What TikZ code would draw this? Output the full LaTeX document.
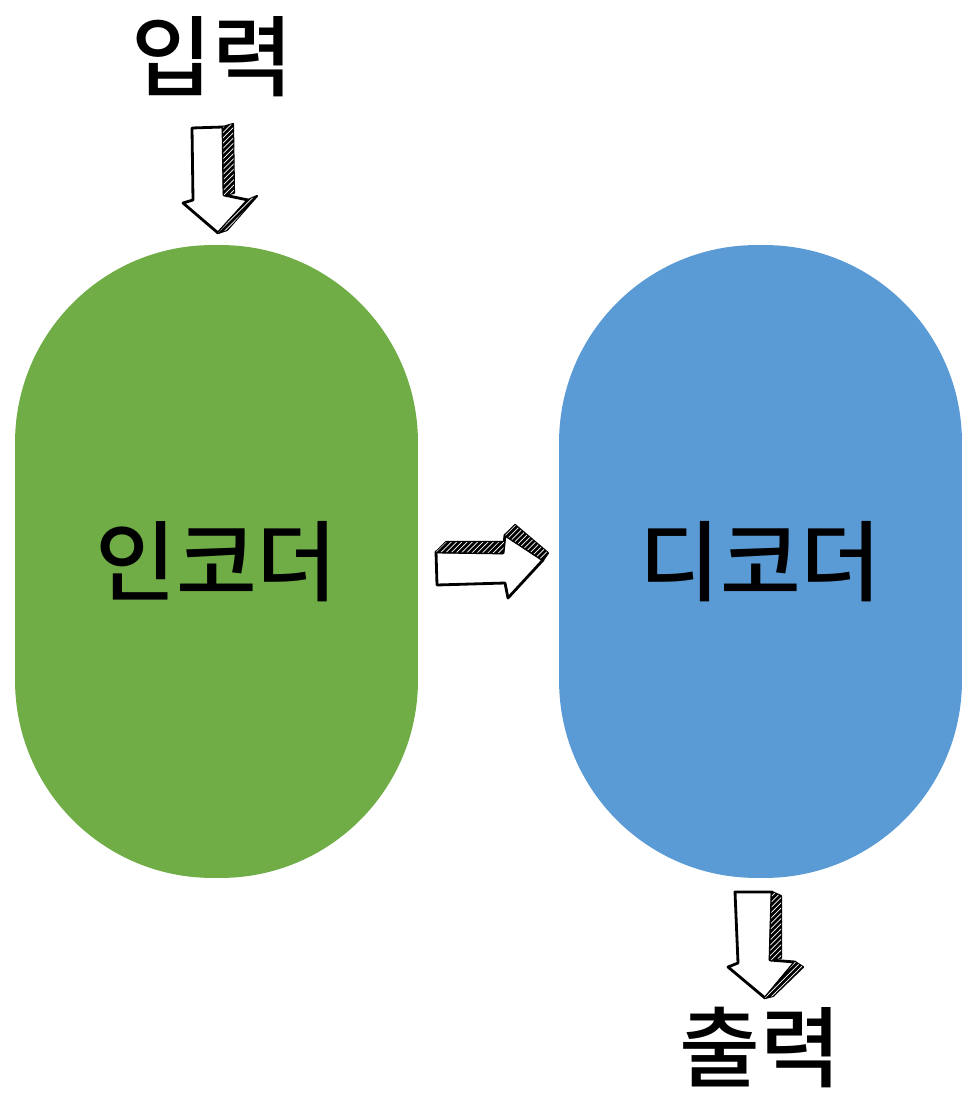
\documentclass[tikz,border=0pt]{standalone}
\usepackage{fontspec}
\usepackage{tikz}
\usetikzlibrary{positioning,patterns}
\newfontfamily\kr{Noto Sans CJK KR}[BoldFont={Noto Sans CJK KR Medium}]
\definecolor{encgreen}{HTML}{70AD47}
\definecolor{decblue}{HTML}{5B9BD5}

\begin{document}
\begin{tikzpicture}[x=0.02cm,y=-0.02cm,
  block/.style={minimum width=8.06cm,minimum height=12.66cm,rounded corners=3.95cm,inner sep=0pt},
  big label/.style={font=\kr\bfseries\fontsize{50}{50}\selectfont,inner sep=0pt},
  front face/.style={draw=black,fill=white,line width=1.6pt,line join=round},
  side face/.style={draw=black,fill=black,line width=1.2pt,line join=round,
    postaction={pattern=north east lines,pattern color=white}}]

\useasboundingbox (0,0) rectangle (976,1104);

\node at (216.5,561.5) [block,fill=encgreen] (enc) {};
\node at (760.5,561.5) [block,fill=decblue] (dec) {};

\node at (enc.center) [big label] (enctext) {인코더};
\node at (dec.center) [big label] (dectext) {디코더};

\node at (212,57) [big label] (in) {입력};
\node at (760,1048) [big label] (out) {출력};

% input arrow
\draw[front face] (192,128) -- (223,127) -- (224,195) -- (248,200) -- (218,233) -- (183,203) -- (193,200) -- cycle;
\draw[side face] (223,127) -- (233,124) -- (234,193) -- (224,195) -- cycle;
\draw[side face] (248,200) -- (257,196) -- (227,230) -- (218,233) -- cycle;

% encoder to decoder
\draw[front face] (436,552) -- (503,553) -- (505,535) -- (543,560) -- (508,598) -- (505,583) -- (437,585) -- cycle;
\draw[side face] (436,552) -- (446,542) -- (504,542) -- (503,553) -- cycle;
\draw[side face] (505,535) -- (515,525) -- (548,553) -- (543,560) -- cycle;

% output arrow
\draw[front face] (735,892) -- (772,892) -- (770,960) -- (795,962) -- (765,998) -- (728,967) -- (738,963) -- cycle;
\draw[side face] (772,892) -- (781,896) -- (781,958) -- (770,960) -- cycle;
\draw[side face] (795,962) -- (803,967) -- (773,996) -- (765,998) -- cycle;

\end{tikzpicture}
\end{document}
